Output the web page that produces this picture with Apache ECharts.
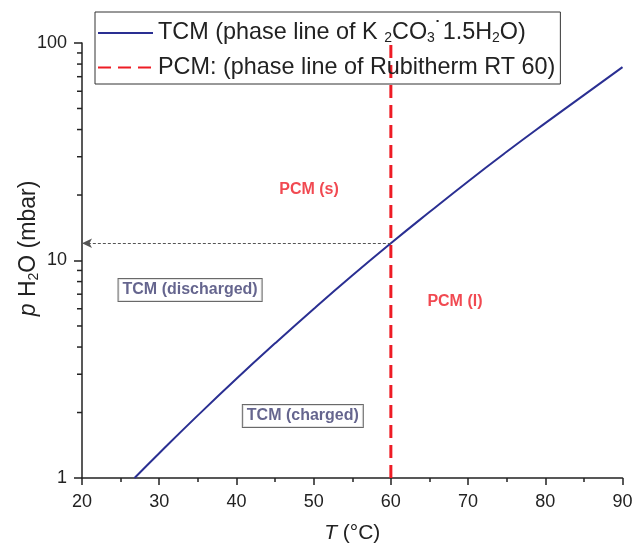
<!DOCTYPE html>
<html>
<head>
<meta charset="utf-8">
<script src="https://cdn.jsdelivr.net/npm/echarts@6/dist/echarts.min.js"></script>
<style>
  html, body { margin: 0; padding: 0; background: #fff; }
  #chart { width: 634px; height: 544px; }
</style>
</head>
<body>
<div id="chart"></div>
<script>
// Phase line of the TCM (K2CO3·1.5H2O): temperature in °C vs water vapour pressure in mbar
const tcmTemp = [26.8, 30, 35, 40, 45, 50, 55, 60, 65, 70, 75, 80, 85, 90];
const tcmPressure = [1.0, 1.30, 1.94, 2.86, 4.16, 5.99, 8.53, 12.0, 16.7, 23.1, 31.6, 42.8, 57.6, 77.5];

// Melting point of the PCM (Rubitherm RT 60)
const pcmTemp = 60;
const pressureRange = [1, 100];

// Vapour pressure at the PCM melting point
const crossingPressure = 12.0;

// Region labels: [T, p, text, boxed]
const regionLabels = [
  [49.4, 21.1, 'PCM (s)', false],
  [68.3, 6.45, 'PCM (l)', false],
  [34.0, 7.32, 'TCM (discharged)', true],
  [48.6, 1.93, 'TCM (charged)', true]
];

// Axis settings
const yMinorTicks = [2, 3, 4, 5, 6, 7, 8, 9, 20, 30, 40, 50, 60, 70, 80, 90];

const tcmName = 'TCM';
const pcmName = 'PCM';

const chart = echarts.init(document.getElementById('chart'), null, { renderer: 'canvas' });

const axisColor = '#222';
const font = 'Liberation Sans, Arial, sans-serif';

const option = {
  animation: false,
  backgroundColor: '#fff',
  textStyle: { fontFamily: font },
  grid: { left: 82, right: 11.5, top: 43, bottom: 66, containLabel: false, outerBoundsMode: 'none' },
  legend: {
    data: [tcmName, pcmName],
    orient: 'vertical',
    left: 95,
    top: 12,
    padding: [7, 5, 5, 2],
    itemGap: 11,
    itemWidth: 55,
    itemHeight: 16,
    itemStyle: { opacity: 0 },
    borderColor: '#333',
    borderWidth: 1,
    borderRadius: 0,
    formatter: function (name) {
      if (name === tcmName) {
        return 'TCM (phase line of K {sub|2}CO{sub|3}{dot|˙}1.5H{sub|2}O)';
      }
      return 'PCM: (phase line of Rubitherm RT 60)';
    },
    textStyle: {
      fontSize: 23.4,
      color: '#222',
      fontFamily: font,
      rich: {
        sub: { fontSize: 14, color: '#222', fontFamily: font, padding: [10, 0, 0, 0] },
        dot: { fontSize: 23.4, color: '#222', fontFamily: font, padding: [0, 0, 5, 0] }
      }
    }
  },
  xAxis: {
    type: 'value',
    min: 20,
    max: 90,
    interval: 10,
    name: '{it|T} (°C)',
    nameLocation: 'middle',
    nameGap: 45,
    nameMoveOverlap: false,
    nameTextStyle: {
      fontSize: 21,
      color: axisColor,
      fontFamily: font,
      rich: { it: { fontSize: 21, fontStyle: 'italic', color: axisColor, fontFamily: font } }
    },
    axisLine: { lineStyle: { color: axisColor, width: 1.5 } },
    axisTick: { inside: false, length: 7, lineStyle: { color: axisColor, width: 1.5 } },
    minorTick: { show: true, splitNumber: 2, length: 4, lineStyle: { color: axisColor, width: 1.5 } },
    axisLabel: { fontSize: 18, color: axisColor, margin: 15, fontFamily: font },
    splitLine: { show: false }
  },
  yAxis: {
    type: 'log',
    logBase: 10,
    min: pressureRange[0],
    max: pressureRange[1],
    name: '{it|p} H{sub|2}O (mbar)',
    nameLocation: 'middle',
    nameRotate: 90,
    nameGap: 41,
    nameMoveOverlap: false,
    nameTextStyle: {
      fontSize: 23,
      color: axisColor,
      fontFamily: font,
      padding: [0, 0, 0, 24],
      rich: {
        it: { fontSize: 23, fontStyle: 'italic', color: axisColor, fontFamily: font },
        sub: { fontSize: 14, color: axisColor, fontFamily: font, padding: [10, 0, 0, 0] }
      }
    },
    axisLine: { show: true, lineStyle: { color: axisColor, width: 1.5 } },
    axisTick: { inside: false, length: 8, lineStyle: { color: axisColor, width: 1.5 } },
    axisLabel: { fontSize: 18, color: axisColor, margin: 15, fontFamily: font },
    splitLine: { show: false }
  },
  series: [
    {
      name: tcmName,
      type: 'line',
      data: tcmTemp.map((t, i) => [t, tcmPressure[i]]),
      symbol: 'none',
      smooth: true,
      lineStyle: { color: '#2a2f92', width: 2 },
      itemStyle: { color: '#2a2f92' },
      z: 3
    },
    {
      name: pcmName,
      type: 'line',
      data: [[pcmTemp, pressureRange[0]], [pcmTemp, pressureRange[1]]],
      symbol: 'none',
      lineStyle: { color: '#ee1c25', width: 3, type: [13, 7] },
      itemStyle: { color: '#ee1c25' },
      z: 2
    },
    {
      name: 'crossing',
      type: 'line',
      data: [],
      symbol: 'none',
      markLine: {
        silent: true,
        symbol: ['none', 'arrow'],
        symbolSize: [7, 10],
        label: { show: false },
        lineStyle: { color: '#555', width: 1, type: [3, 2] },
        data: [[{ coord: [pcmTemp, crossingPressure] }, { coord: [20, crossingPressure] }]]
      }
    },
    {
      name: 'regions',
      type: 'scatter',
      symbolSize: 0,
      data: regionLabels.map(r => ({
        value: [r[0], r[1]],
        label: r[3]
          ? { show: true, position: 'inside', formatter: r[2], fontSize: 16, fontWeight: 'bold',
              color: '#3f3f72', backgroundColor: '#fff', borderColor: '#444', borderWidth: 1,
              padding: [3, 4, 3, 4], fontFamily: font }
          : { show: true, position: 'inside', formatter: r[2], fontSize: 16, fontWeight: 'bold',
              color: '#ee1c25', fontFamily: font }
      })),
      z: 5
    },
    {
      name: 'yMinorTicks',
      type: 'custom',
      clip: false,
      silent: true,
      data: yMinorTicks.map(v => [20, v]),
      renderItem: function (params, api) {
        const p = api.coord([api.value(0), api.value(1)]);
        return {
          type: 'line',
          shape: { x1: p[0] - 5, y1: p[1], x2: p[0], y2: p[1] },
          style: { stroke: axisColor, lineWidth: 1.5 }
        };
      }
    }
  ]
};

chart.setOption(option);
</script>
</body>
</html>
